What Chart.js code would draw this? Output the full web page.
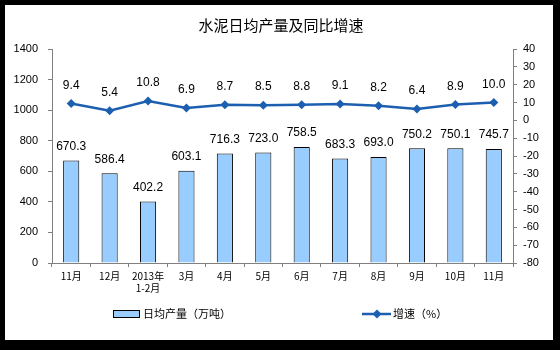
<!DOCTYPE html>
<html>
<head>
<meta charset="utf-8">
<script src="https://cdn.jsdelivr.net/npm/chart.js@4/dist/chart.umd.min.js"></script>
<style>
  html, body { margin: 0; padding: 0; background: #000; }
  #wrap { position: relative; width: 560px; height: 350px; }
  #paper { position: absolute; left: 5px; top: 5px; width: 548px; height: 335px; background: #fff; }
  #c { position: absolute; left: 0; top: 0; }
</style>
</head>
<body>
<div id="wrap">
  <div id="paper"></div>
  <canvas id="c" width="560" height="350"></canvas>
</div>
<script>
  // 月份
  var months = ['11月', '12月', ['2013年', '1-2月'], '3月', '4月', '5月', '6月', '7月', '8月', '9月', '10月', '11月'];
  // 日均产量（万吨）
  var output = [670.3, 586.4, 402.2, 603.1, 716.3, 723.0, 758.5, 683.3, 693.0, 750.2, 750.1, 745.7];
  // 增速（%）
  var growth = [9.4, 5.4, 10.8, 6.9, 8.7, 8.5, 8.8, 9.1, 8.2, 6.4, 8.9, 10.0];

  var BAR_FILL = '#99ccff';
  var LINE_COLOR = '#1c5fb0';
  var AXIS_COLOR = '#808080';
  var NUM_FONT = '"Liberation Sans", Arial, sans-serif';
  var CJK_FONT = '"Noto Sans CJK SC", sans-serif';

  //plain integer ticks, no thousands separator
  function plainTick(v) { return String(v); }

  //value labels above bars and points
  var valueLabels = {
    id: 'valueLabels',
    afterDatasetsDraw: function(chart) {
      var ctx = chart.ctx;
      ctx.save();
      ctx.fillStyle = '#000';
      ctx.font = '12px ' + NUM_FONT;
      ctx.textAlign = 'center';
      ctx.textBaseline = 'middle';
      chart.data.datasets.forEach(function(ds, i) {
        var meta = chart.getDatasetMeta(i);
        var lift = ds.type == 'line' ? 18 : 14;
        meta.data.forEach(function(el, j) {
          ctx.fillText(ds.data[j].toFixed(1), el.x, el.y - lift);
        });
      });
      ctx.restore();
    }
  };

  //legend drawn under the x axis
  var bottomLegend = {
    id: 'bottomLegend',
    afterDraw: function(chart) {
      var ctx = chart.ctx;
      var y = 314;
      ctx.save();
      // bar swatch
      ctx.fillStyle = BAR_FILL;
      ctx.fillRect(113.5, y - 3.5, 26, 7);
      ctx.strokeStyle = '#000';
      ctx.lineWidth = 1;
      ctx.strokeRect(113.5, y - 3.5, 26, 7);
      // line swatch
      ctx.strokeStyle = LINE_COLOR;
      ctx.lineWidth = 2.5;
      ctx.beginPath();
      ctx.moveTo(362, y);
      ctx.lineTo(391, y);
      ctx.stroke();
      ctx.fillStyle = LINE_COLOR;
      ctx.beginPath();
      ctx.moveTo(377, y - 4.5);
      ctx.lineTo(381.5, y);
      ctx.lineTo(377, y + 4.5);
      ctx.lineTo(372.5, y);
      ctx.closePath();
      ctx.fill();
      // texts
      ctx.fillStyle = '#000';
      ctx.font = '11px ' + CJK_FONT;
      ctx.textBaseline = 'middle';
      ctx.textAlign = 'left';
      ctx.fillText('日均产量（万吨）', 143, y);
      ctx.fillText('增速（%）', 393, y);
      ctx.restore();
    }
  };

  var ctx = document.getElementById('c').getContext('2d');
  var chart = new Chart(ctx, {
    data: {
      labels: months,
      datasets: [{
        type: 'line',
        label: '增速（%）',
        data: growth,
        yAxisID: 'y1',
        borderColor: LINE_COLOR,
        backgroundColor: LINE_COLOR,
        borderWidth: 2.5,
        pointStyle: 'rectRot',
        pointRadius: 4.5,
        pointBorderWidth: 0,
        tension: 0,
        order: 0
      }, {
        type: 'bar',
        label: '日均产量（万吨）',
        data: output,
        yAxisID: 'y',
        backgroundColor: BAR_FILL,
        borderColor: '#000',
        borderWidth: 1,
        categoryPercentage: 1,
        barPercentage: 0.42,
        order: 1
      }]
    },
    options: {
      responsive: false,
      animation: false,
      layout: { padding: { top: 49, left: 0, right: 0, bottom: 0 } },
      plugins: {
        legend: { display: false },
        tooltip: { enabled: false },
        title: { display: false }
      },
      scales: {
        x: {
          offset: true,
          grid: { display: true, offset: true, drawOnChartArea: false, drawTicks: true, tickLength: 4, color: AXIS_COLOR },
          border: { color: AXIS_COLOR },
          ticks: { color: '#000', font: { family: CJK_FONT, size: 10 }, padding: 3, maxRotation: 0, autoSkip: false },
          afterFit: function(scale) { scale.height = 87; }
        },
        y: {
          position: 'left',
          min: 0,
          max: 1400,
          grid: { drawOnChartArea: false, drawTicks: true, tickLength: 4, color: AXIS_COLOR },
          border: { color: AXIS_COLOR },
          ticks: { stepSize: 200, color: '#000', font: { family: NUM_FONT, size: 11 }, padding: 10, callback: plainTick },
          afterFit: function(scale) { scale.width = 52; }
        },
        y1: {
          position: 'right',
          min: -80,
          max: 40,
          grid: { drawOnChartArea: false, drawTicks: true, tickLength: 4, color: AXIS_COLOR },
          border: { color: AXIS_COLOR },
          ticks: { stepSize: 10, color: '#000', font: { family: NUM_FONT, size: 11 }, padding: 6, callback: plainTick },
          afterFit: function(scale) { scale.width = 47; }
        }
      }
    },
    plugins: [valueLabels, bottomLegend, {
      id: 'titleText',
      afterDraw: function(chart) {
        var c = chart.ctx;
        c.save();
        c.fillStyle = '#000';
        c.font = '15px ' + CJK_FONT;
        c.textAlign = 'center';
        c.textBaseline = 'middle';
        c.fillText('水泥日均产量及同比增速', 281, 25);
        c.restore();
      }
    }]
  });
</script>
</body>
</html>
